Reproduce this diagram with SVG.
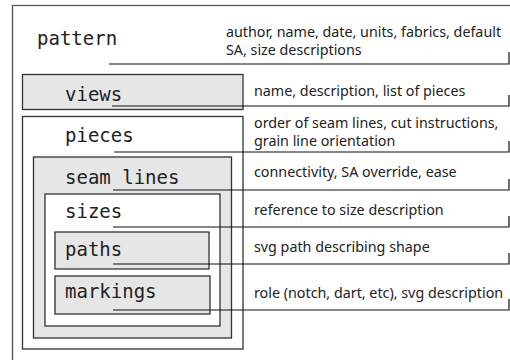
<svg xmlns="http://www.w3.org/2000/svg" width="510" height="360" viewBox="0 0 510 360">
<style>
.box{stroke:#333;stroke-width:1.3}
.g{fill:#e6e6e6}
.w{fill:#fff}
.lbl{font-family:"DejaVu Sans Mono",monospace;font-size:19px;fill:#222}
.desc{font-family:"Noto Sans","Open Sans",sans-serif;font-size:14.3px;fill:#222}
.con{fill:none;stroke:#111;stroke-width:1.2}
</style>
<rect width="510" height="360" fill="#fff"/>
<g id="pattern">
<rect x="12.5" y="5.5" width="520" height="400" fill="#fff" stroke="#555" stroke-width="1.3"/>
<text class="lbl" x="37" y="45">pattern</text>
<text class="desc" x="226" y="37">author, name, date, units, fabrics, default</text>
<text class="desc" x="226" y="55">SA, size descriptions</text>
</g>
<g id="views">
<rect class="box g" x="22.5" y="74.5" width="220.5" height="35"/>
<text class="lbl" x="65" y="101">views</text>
<text class="desc" x="254" y="96">name, description, list of pieces</text>
</g>
<g id="pieces">
<rect class="box w" x="22.5" y="116.5" width="220.5" height="232.5"/>
<text class="lbl" x="65" y="142">pieces</text>
<text class="desc" x="254" y="128">order of seam lines, cut instructions,</text>
<text class="desc" x="254" y="146">grain line orientation</text>
</g>
<g id="seam-lines">
<rect class="box g" x="33.5" y="157" width="198" height="181"/>
<text class="lbl" x="65" y="184">seam lines</text>
<text class="desc" x="254" y="177">connectivity, SA override, ease</text>
</g>
<g id="sizes">
<rect class="box w" x="45" y="194" width="175" height="132"/>
<text class="lbl" x="65" y="218">sizes</text>
<text class="desc" x="254" y="215">reference to size description</text>
</g>
<g id="paths">
<rect class="box g" x="55" y="232" width="154" height="37"/>
<text class="lbl" x="65" y="256">paths</text>
<text class="desc" x="254" y="252">svg path describing shape</text>
</g>
<g id="markings">
<rect class="box g" x="55" y="276" width="155" height="38"/>
<text class="lbl" x="65" y="298">markings</text>
<text class="desc" x="254" y="298">role (notch, dart, etc), svg description</text>
</g>
<g id="connectors">
<path class="con" d="M109,64 H509 V52"/>
<path class="con" d="M112,106 H509 V95"/>
<path class="con" d="M114,152 H509 V141"/>
<path class="con" d="M113,190 H509 V179"/>
<path class="con" d="M113,227 H509 V216"/>
<path class="con" d="M113,264 H509 V253"/>
<path class="con" d="M113,310 H509 V299"/>
</g>
</svg>
